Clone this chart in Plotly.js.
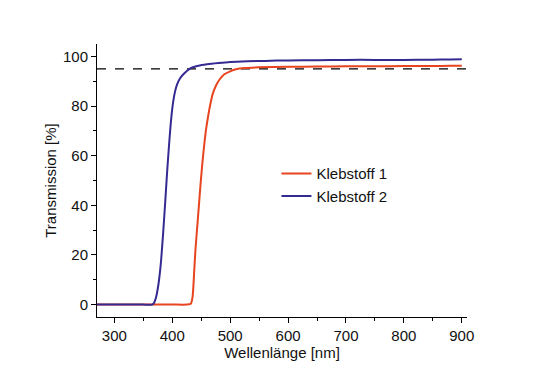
<!DOCTYPE html>
<html>
<head>
<meta charset="utf-8">
<script src="https://cdn.plot.ly/plotly-3.0.1.min.js"></script>
<style>html,body{margin:0;padding:0;background:#fff;}#chart{width:543px;height:380px;}</style>
</head>
<body>
<div id="chart"></div>
<script>
// Klebstoff 1 (red)
const wl1 = [270, 300, 350, 400, 425, 432, 435, 438, 440, 443, 446, 449, 452, 455, 458, 462, 466, 470, 476, 482, 490, 500, 510, 525, 550, 600, 650, 700, 750, 800, 850, 880, 900];
const t1  = [0, 0, 0, 0, 0, 0.3, 3, 14, 22, 31, 40, 49, 57, 64, 70, 76, 81, 85, 88.5, 90.8, 92.8, 94.0, 94.8, 95.3, 95.6, 95.8, 95.9, 96.0, 96.0, 96.1, 96.1, 96.2, 96.2];
// Klebstoff 2 (blue)
const wl2 = [270, 300, 350, 365, 368, 372, 376, 380, 384, 388, 391, 394, 397, 400, 404, 408, 413, 420, 430, 445, 460, 480, 500, 530, 560, 600, 650, 700, 750, 800, 850, 880, 900];
const t2  = [0, 0, 0, 0, 0.5, 3, 8, 16, 28, 42, 53, 63, 72, 79, 85, 88.5, 91, 93, 95, 96.2, 96.8, 97.3, 97.7, 98.0, 98.2, 98.4, 98.5, 98.6, 98.6, 98.6, 98.7, 98.8, 98.9];
// Reference line
const refX = [270, 909];
const refY = [95, 95];
const names = ["Klebstoff 1", "Klebstoff 2"];
const xTicks = [300, 400, 500, 600, 700, 800, 900];
const yTicks = [0, 20, 40, 60, 80, 100];

const font = {family: "Liberation Sans, Arial, sans-serif", size: 15, color: "#111"};

const data = [
  {x: refX, y: refY, mode: "lines", line: {color: "#000", width: 1.2, dash: "dash"}, showlegend: false, hoverinfo: "skip"},
  {x: wl1, y: t1, mode: "lines", name: names[0], line: {color: "#e8441f", width: 2, shape: "spline", smoothing: 0.6}},
  {x: wl2, y: t2, mode: "lines", name: names[1], line: {color: "#352a92", width: 2, shape: "spline", smoothing: 0.6}}
];

const layout = {
  width: 543, height: 380,
  margin: {l: 97, r: 76, t: 44, b: 63},
  paper_bgcolor: "#fff", plot_bgcolor: "#fff",
  font: font,
  showlegend: true,
  legend: {x: 0.485, y: 0.585, xanchor: "left", yanchor: "top", bgcolor: "rgba(0,0,0,0)", font: font, tracegroupgap: 0, itemwidth: 30},
  xaxis: {
    range: [270, 909], showgrid: false, zeroline: false, showline: true, linecolor: "#000", linewidth: 1,
    ticks: "outside", ticklen: 5, tickwidth: 1, tickcolor: "#000", tickvals: xTicks,
    minor: {ticks: "outside", ticklen: 3, tickwidth: 1, tickcolor: "#000", dtick: 50, tick0: 300},
    title: {text: "Wellenlänge [nm]", font: font, standoff: 3},
    tickfont: font
  },
  yaxis: {
    range: [-5, 105], showgrid: false, zeroline: false, showline: true, linecolor: "#000", linewidth: 1,
    ticks: "outside", ticklen: 5, tickwidth: 1, tickcolor: "#000", tickvals: yTicks,
    minor: {ticks: "outside", ticklen: 3, tickwidth: 1, tickcolor: "#000", dtick: 10, tick0: 0},
    title: {text: "Transmission [%]", font: font, standoff: 2},
    tickfont: font
  }
};

Plotly.newPlot("chart", data, layout, {displayModeBar: false, staticPlot: true});
</script>
</body>
</html>
